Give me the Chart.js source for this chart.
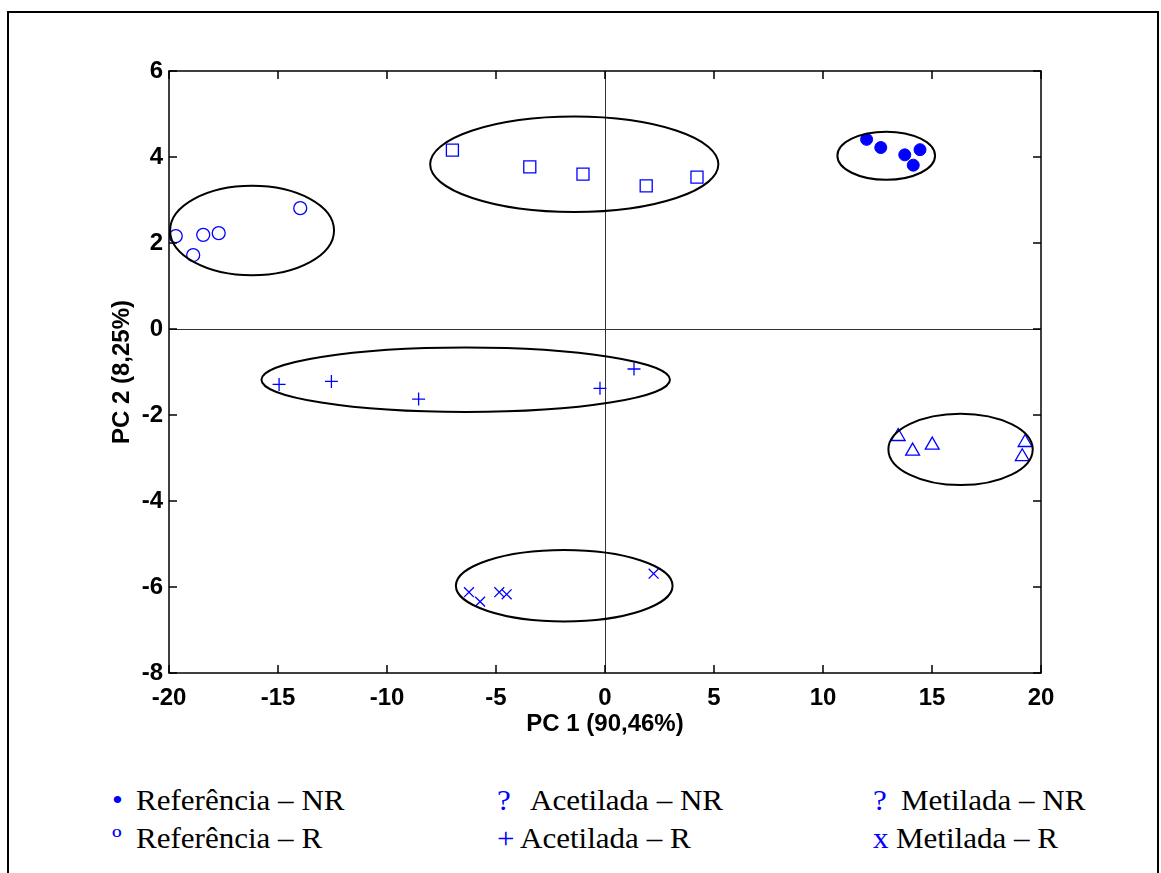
<!DOCTYPE html>
<html>
<head>
<meta charset="utf-8">
<script src="https://cdn.jsdelivr.net/npm/chart.js@4.4.0/dist/chart.umd.min.js"></script>
<style>
  body { margin: 0; background: #fff; }
  #frame { position: absolute; left: 7px; top: 11px; width: 1148px; height: 900px;
           border: 2px solid #000; border-bottom: none; }
  #wrap { position: absolute; left: 0; top: 0; width: 1161px; height: 760px; }
  .leg { position: absolute; font-family: "Liberation Serif", "Times New Roman", serif;
         font-size: 29px; line-height: 30px; white-space: pre; color: #000;
         transform: scaleX(1.07); transform-origin: 0 0; }
  .sym { color: #0000ff; }
</style>
</head>
<body>
<div id="frame"></div>
<div id="wrap"><canvas id="myChart"></canvas></div>

<div class="leg sym" style="left:112px; top:785px;">•</div>
<div class="leg" style="left:136px; top:785px;">Referência – NR</div>
<div class="leg sym" style="left:497px; top:785px;">?</div>
<div class="leg" style="left:530px; top:785px;">Acetilada – NR</div>
<div class="leg sym" style="left:873px; top:785px;">?</div>
<div class="leg" style="left:901px; top:785px;">Metilada – NR</div>
<div class="leg sym" style="left:112px; top:823px;">º</div>
<div class="leg" style="left:136px; top:823px;">Referência – R</div>
<div class="leg sym" style="left:497px; top:823px;">+</div>
<div class="leg" style="left:520px; top:823px;">Acetilada – R</div>
<div class="leg sym" style="left:873px; top:823px;">x</div>
<div class="leg" style="left:896px; top:823px;">Metilada – R</div>

<script>
// PCA scores (PC1, PC2)
const refNR_x = [12.0, 12.65, 13.75, 14.45, 14.14];
const refNR_y = [4.41, 4.22, 4.05, 4.17, 3.81];
const refR_x = [-19.69, -18.89, -18.43, -17.72, -13.98];
const refR_y = [2.16, 1.72, 2.19, 2.23, 2.81];
const acNR_x = [-7.0, -3.45, -1.01, 1.89, 4.22];
const acNR_y = [4.16, 3.77, 3.60, 3.33, 3.53];
const acR_x = [-14.95, -12.55, -8.55, -0.23, 1.33];
const acR_y = [-1.29, -1.22, -1.63, -1.38, -0.93];
const meNR_x = [13.45, 14.11, 15.01, 19.27, 19.14];
const meNR_y = [-2.50, -2.84, -2.70, -2.64, -2.97];
const meR_x = [-6.24, -5.73, -4.85, -4.51, 2.23];
const meR_y = [-6.12, -6.34, -6.12, -6.17, -5.69];

// group ellipses: centre and half axes in data units
const ellCx = [12.9, -16.19, -1.41, -6.39, 16.31, -1.87];
const ellCy = [4.03, 2.29, 3.83, -1.18, -2.80, -5.97];
const ellRx = [2.24, 3.76, 6.61, 9.37, 3.31, 4.97];
const ellRy = [0.56, 1.04, 1.11, 0.75, 0.83, 0.83];

const xTicks = [-20, -15, -10, -5, 0, 5, 10, 15, 20];
const yTicks = [-8, -6, -4, -2, 0, 2, 4, 6];

const blue = "rgb(0,0,255)";
const pts = (xs, ys) => xs.map((x, i) => ({ x: x, y: ys[i] }));

// box, inward ticks and ellipses
const boxPlugin = {
  id: "box",
  afterDatasetsDraw(chart) {
    const { ctx, chartArea: a, scales: { x, y } } = chart;
    ctx.save();
    ctx.strokeStyle = "#000";
    ctx.lineWidth = 2;
    for (let i = 0; i < ellCx.length; i++) {
      const cx = x.getPixelForValue(ellCx[i]);
      const cy = y.getPixelForValue(ellCy[i]);
      const rx = Math.abs(x.getPixelForValue(ellCx[i] + ellRx[i]) - cx);
      const ry = Math.abs(y.getPixelForValue(ellCy[i] + ellRy[i]) - cy);
      ctx.beginPath();
      ctx.ellipse(cx, cy, rx, ry, 0, 0, Math.PI * 2);
      ctx.stroke();
    }
    ctx.lineWidth = 1.5;
    ctx.strokeRect(a.left, a.top, a.right - a.left, a.bottom - a.top);
    ctx.beginPath();
    xTicks.forEach(v => {
      const p = x.getPixelForValue(v);
      ctx.moveTo(p, a.bottom); ctx.lineTo(p, a.bottom - 8);
      ctx.moveTo(p, a.top); ctx.lineTo(p, a.top + 8);
    });
    yTicks.forEach(v => {
      const p = y.getPixelForValue(v);
      ctx.moveTo(a.left, p); ctx.lineTo(a.left + 8, p);
      ctx.moveTo(a.right, p); ctx.lineTo(a.right - 8, p);
    });
    ctx.stroke();
    ctx.restore();
  }
};

const tickFont = { family: "'Liberation Sans', Arial, sans-serif", size: 24, weight: "bold" };
const zeroGrid = {
  drawTicks: false,
  lineWidth: 1,
  color: c => (c.tick && c.tick.value === 0 ? "#333" : "rgba(0,0,0,0)")
};

new Chart(document.getElementById("myChart"), {
  type: "scatter",
  data: {
    datasets: [
      { label: "Referência – NR", data: pts(refNR_x, refNR_y), pointStyle: "circle",
        pointRadius: 6, backgroundColor: blue, borderColor: blue, borderWidth: 1 },
      { label: "Referência – R", data: pts(refR_x, refR_y), pointStyle: "circle",
        pointRadius: 6.5, backgroundColor: "rgba(0,0,0,0)", borderColor: blue, borderWidth: 1.3 },
      { label: "Acetilada – NR", data: pts(acNR_x, acNR_y), pointStyle: "rect",
        pointRadius: 8.5, backgroundColor: "rgba(0,0,0,0)", borderColor: blue, borderWidth: 1.3 },
      { label: "Acetilada – R", data: pts(acR_x, acR_y), pointStyle: "cross",
        pointRadius: 6.5, borderColor: blue, borderWidth: 1.3 },
      { label: "Metilada – NR", data: pts(meNR_x, meNR_y), pointStyle: "triangle",
        pointRadius: 8, backgroundColor: "rgba(0,0,0,0)", borderColor: blue, borderWidth: 1.3 },
      { label: "Metilada – R", data: pts(meR_x, meR_y), pointStyle: "crossRot",
        pointRadius: 7, borderColor: blue, borderWidth: 1.3 }
    ]
  },
  options: {
    responsive: true,
    maintainAspectRatio: false,
    animation: false,
    layout: { padding: { left: 104, top: 71, right: 120, bottom: 0 } },
    plugins: { legend: { display: false }, tooltip: { enabled: false } },
    scales: {
      x: {
        min: -20, max: 20,
        afterBuildTicks: s => { s.ticks = xTicks.map(v => ({ value: v })); },
        afterFit: s => { s.height = 87; },
        ticks: { font: tickFont, color: "#000", padding: 11, maxRotation: 0 },
        grid: zeroGrid,
        border: { display: false },
        title: { display: true, text: "PC 1 (90,46%)", font: tickFont, color: "#000",
                 padding: { top: 0, bottom: 21 } }
      },
      y: {
        min: -8, max: 6,
        afterBuildTicks: s => { s.ticks = yTicks.map(v => ({ value: v })); },
        afterFit: s => { s.width = 65; },
        ticks: { font: tickFont, color: "#000", padding: 6 },
        grid: zeroGrid,
        border: { display: false },
        title: { display: true, text: "PC 2 (8,25%)", font: tickFont, color: "#000",
                 padding: { top: 4, bottom: 0 } }
      }
    }
  },
  plugins: [boxPlugin]
});
</script>
</body>
</html>
